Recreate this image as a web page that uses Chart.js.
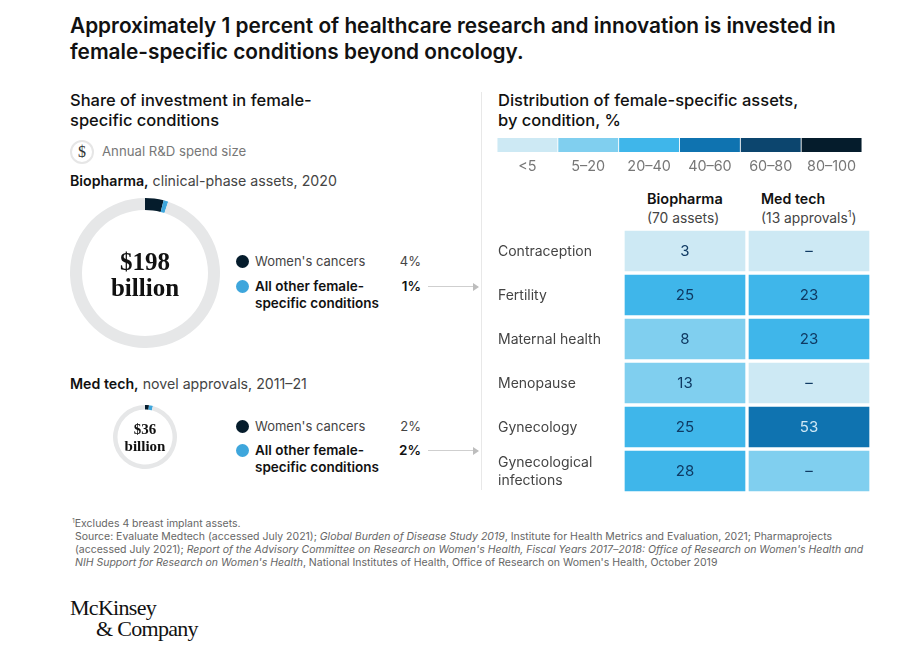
<!DOCTYPE html>
<html>
<head>
<meta charset="utf-8">
<style>
  html, body { margin: 0; padding: 0; background: #fff; }
  body { width: 916px; height: 653px; position: relative; overflow: hidden; font-family: Inter, sans-serif; color: #1a1a1a; }
  canvas { position: absolute; }
  .t { position: absolute; white-space: nowrap; line-height: 1; transform: translateY(calc(-50% + 0.6px)); }
  .title { font-size: 20.8px; font-weight: 600; color: #111; }
  .head { font-size: 16.5px; font-weight: 500; color: #111; }
  .body { font-size: 14.2px; color: #444; }
  .small { font-size: 13px; }
  .bold { font-weight: 600; color: #111; }
  .boldsmall { font-size: 13.5px; }
  .grey { color: #777; }
  .note { font-size: 10.5px; color: #666; }
  .serif { font-family: "Liberation Serif", serif; font-weight: 700; color: #111; transform: translate(-50%, -50%); }
  .logo { font-family: "Liberation Serif", serif; font-size: 22px; letter-spacing: -0.7px; color: #111; }
  .dot { position: absolute; width: 13px; height: 13px; border-radius: 50%; }
  .rule { position: absolute; background: #e8e8e8; }
  .arrow { position: absolute; height: 1px; background: #cfcfcf; }
  .arrow:after { content: ""; position: absolute; right: -1px; top: -3.5px; border-left: 6px solid #bdbdbd; border-top: 4px solid transparent; border-bottom: 4px solid transparent; }
  .coin { position: absolute; left: 70px; top: 140px; width: 20px; height: 20px; border: 2px solid #e6e6e6; border-radius: 50%; text-align: center; line-height: 20px; font-family: "Liberation Serif", serif; font-size: 16px; color: #333; }
  sup { font-size: 65%; line-height: 0; }
</style>
</head>
<body>
<div class="t title" style="left:70px;top:26px">Approximately 1 percent of healthcare research and innovation is invested in</div>
<div class="t title" style="left:70px;top:52px">female-specific conditions beyond oncology.</div>

<div class="t head" style="left:70px;top:100px">Share of investment in female-</div>
<div class="t head" style="left:70px;top:120px">specific conditions</div>
<div class="coin">$</div>
<div class="t body grey" style="left:102px;top:151px;font-size:13.2px">Annual R&amp;D spend size</div>
<div class="t body" style="left:70px;top:181px"><span class="bold">Biopharma,</span> clinical-phase assets, 2020</div>
<div class="t body" style="left:70px;top:384px"><span class="bold">Med tech,</span> novel approvals, 2011–21</div>

<div class="t head" style="left:498px;top:100px">Distribution of female-specific assets,</div>
<div class="t head" style="left:498px;top:120px">by condition, %</div>
<div class="t body bold" style="left:647px;top:199px;font-size:14.5px">Biopharma</div>
<div class="t body" style="left:647px;top:218px;font-size:13.8px">(70 assets)</div>
<div class="t body bold" style="left:761px;top:199px;font-size:14.2px">Med tech</div>
<div class="t body" style="left:761px;top:218px;font-size:13.8px">(13 approvals<sup>1</sup>)</div>

<div class="rule" style="left:481px;top:92px;width:1px;height:398px"></div>
<div class="arrow" style="left:428px;top:286px;width:50px"></div>
<div class="arrow" style="left:428px;top:450px;width:50px"></div>

<canvas id="biopharmaRing" width="150" height="150" style="left:70px;top:198px;width:150px;height:150px"></canvas>
<canvas id="medTechRing" width="64" height="64" style="left:113px;top:405px;width:64px;height:64px"></canvas>
<canvas id="binStrip" width="390" height="50" style="left:490px;top:130px;width:390px;height:50px"></canvas>
<canvas id="heatmap" width="381" height="264" style="left:490px;top:229px;width:381px;height:264px"></canvas>

<div class="t serif" style="left:145px;top:260.5px;font-size:25px">$198</div>
<div class="t serif" style="left:145px;top:286.5px;font-size:25px">billion</div>
<div class="t serif" style="left:145px;top:429px;font-size:15px">$36</div>
<div class="t serif" style="left:145px;top:446px;font-size:15px">billion</div>

<div id="legends"></div>

<div class="t note" style="left:72px;top:523.5px"><sup>1</sup>Excludes 4 breast implant assets.</div>
<div class="t note" style="left:75px;top:536.5px">Source: Evaluate Medtech (accessed July 2021); <i>Global Burden of Disease Study 2019</i>, Institute for Health Metrics and Evaluation, 2021; Pharmaprojects</div>
<div class="t note" style="left:75px;top:549.5px">(accessed July 2021); <i>Report of the Advisory Committee on Research on Women's Health, Fiscal Years 2017–2018: Office of Research on Women's Health and</i></div>
<div class="t note" style="left:75px;top:562.5px"><i>NIH Support for Research on Women's Health</i>, National Institutes of Health, Office of Research on Women's Health, October 2019</div>

<div class="t logo" style="left:70px;top:607px">McKinsey</div>
<div class="t logo" style="left:96px;top:628px">&amp; Company</div>

<script src="https://cdn.jsdelivr.net/npm/chart.js@4"></script>
<script>
// values
const ringLabels = ["Women's cancers", "All other female-specific conditions", "Rest"];
const biopharmaShares = [4, 1, 95];
const medTechShares = [2, 2, 96];

const binLabels = ['<5', '5–20', '20–40', '40–60', '60–80', '80–100'];
const conditions = ['Contraception', 'Fertility', 'Maternal health', 'Menopause', 'Gynecology', ['Gynecological', 'infections']];
const biopharmaValues = [3, 25, 8, 13, 25, 28];
const medTechValues = [null, 23, 23, null, 53, null];
// which shade each cell has in the source (dashes are shaded too)
const biopharmaBins = [0, 2, 1, 1, 2, 2];
const medTechBins = [0, 2, 2, 0, 3, 1];

const binColors = ['#cde9f4', '#80cfef', '#3fb6ea', '#0f73b0', '#0c456e', '#051c2c'];
const ringColors = ['#051c2c', '#3ea6dc', '#e6e7e8'];

Chart.defaults.animation = false;
Chart.defaults.responsive = false;
Chart.defaults.font.family = 'Inter, sans-serif';
Chart.defaults.plugins.legend.display = false;
Chart.defaults.plugins.tooltip.enabled = false;

function makeRing(id, shares, cutout) {
  new Chart(document.getElementById(id), {
    type: 'doughnut',
    data: { labels: ringLabels, datasets: [{ data: shares, backgroundColor: ringColors, borderWidth: 0 }] },
    options: { cutout: cutout }
  });
}
makeRing('biopharmaRing', biopharmaShares, '84%');
makeRing('medTechRing', medTechShares, '86%');

// legends next to the rings
const legendBox = document.getElementById('legends');
function addText(cls, left, top, text, right) {
  const el = document.createElement('div');
  el.className = 't body ' + cls;
  el.style.top = top + 'px';
  if (right) el.style.right = (916 - left) + 'px'; else el.style.left = left + 'px';
  el.textContent = text;
  legendBox.appendChild(el);
}
function addLegend(shares, y1, y2) {
  [[y1, 0], [y2, 1]].forEach(function (row) {
    const dot = document.createElement('div');
    dot.className = 'dot';
    dot.style.left = '236px';
    dot.style.top = (row[0] - 6.5) + 'px';
    dot.style.background = ringColors[row[1]];
    legendBox.appendChild(dot);
  });
  addText('small', 255, y1, ringLabels[0]);
  addText('small', 421, y1, shares[0] + '%', true);
  addText('bold boldsmall', 255, y2, 'All other female-');
  addText('bold boldsmall', 255, y2 + 17, 'specific conditions');
  addText('bold boldsmall', 421, y2, shares[1] + '%', true);
}
addLegend(biopharmaShares, 261, 286);
addLegend(medTechShares, 426, 450);

// colour key
new Chart(document.getElementById('binStrip'), {
  type: 'bar',
  data: {
    labels: binLabels,
    datasets: [{
      data: binLabels.map(() => 1),
      backgroundColor: binColors,
      borderWidth: 0,
      barPercentage: 1,
      categoryPercentage: 0.985
    }]
  },
  options: {
    layout: { padding: { left: 7, right: 18, top: 8 } },
    scales: {
      x: {
        grid: { display: false, drawTicks: false },
        border: { display: false },
        ticks: { color: '#777', font: { size: 14.4 }, padding: 6, maxRotation: 0, autoSkip: false },
        afterFit: function (s) { s.height = 28; }
      },
      y: { display: false, min: 0, max: 1 }
    }
  }
});

// numbers inside the cells
const cellText = {
  id: 'cellText',
  afterDatasetsDraw: function (chart) {
    const c = chart.ctx;
    c.save();
    c.font = '15px Inter, sans-serif';
    c.textAlign = 'center';
    c.textBaseline = 'middle';
    chart.data.datasets.forEach(function (ds, i) {
      chart.getDatasetMeta(i).data.forEach(function (bar, j) {
        const raw = ds.data[j];
        const p = bar.getCenterPoint();
        c.fillStyle = raw.bin >= 3 ? '#cfe8f5' : '#0f3a63';
        c.fillText(raw.v === null ? '–' : raw.v, p.x, p.y);
      });
    });
    c.restore();
  }
};

function cellRows(values, bins) {
  return conditions.map((name, i) => ({ y: String(name), x: 1, v: values[i], bin: bins[i] }));
}
function cellSet(values, bins) {
  return {
    data: cellRows(values, bins),
    backgroundColor: ctx => binColors[ctx.raw.bin],
    borderColor: '#fff',
    borderWidth: 2,
    borderSkipped: false,
    barPercentage: 1,
    categoryPercentage: 1
  };
}

new Chart(document.getElementById('heatmap'), {
  type: 'bar',
  plugins: [cellText],
  data: {
    labels: conditions.map(String),
    datasets: [cellSet(biopharmaValues, biopharmaBins), cellSet(medTechValues, medTechBins)]
  },
  options: {
    indexAxis: 'y',
    layout: { padding: { left: 8 } },
    scales: {
      x: { display: false, stacked: true, min: 0, max: 2 },
      y: {
        stacked: true,
        grid: { display: false, drawTicks: false },
        border: { display: false },
        // tick labels may not eat into the rows, the cells fill the full height
        afterFit: function (s) { s.width = 125; s.paddingTop = 0; s.paddingBottom = 0; },
        ticks: {
          crossAlign: 'far',
          color: '#444',
          font: { size: 14, lineHeight: 1.28 },
          labelOffset: 1,
          autoSkip: false,
          callback: function (v, i) { return conditions[i]; }
        }
      }
    }
  }
});
</script>
</body>
</html>
